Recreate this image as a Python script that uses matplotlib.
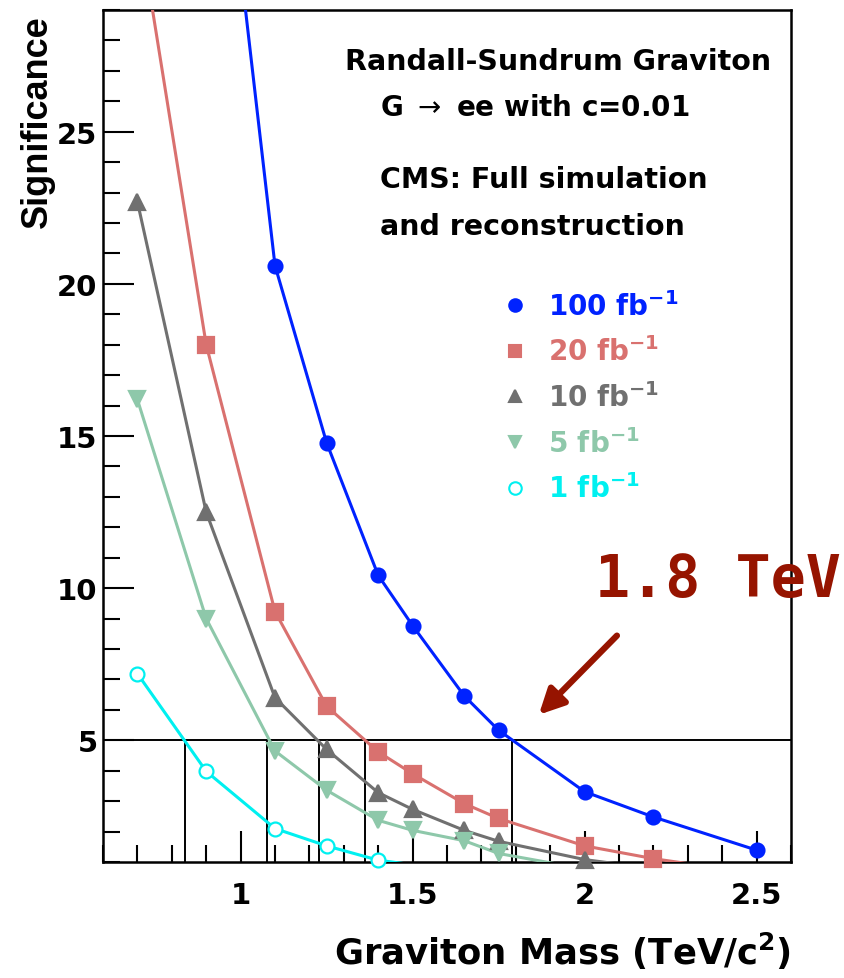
import matplotlib
matplotlib.use("Agg")
import matplotlib.pyplot as plt
from matplotlib.lines import Line2D
from matplotlib.ticker import MultipleLocator
import numpy as np

# Graviton mass points (TeV/c^2)
masa = np.array([0.7, 0.9, 1.1, 1.25, 1.4, 1.5, 1.65, 1.75, 2.0, 2.2, 2.5])

# Significance for each integrated luminosity
sig_100 = np.array([np.nan, 40.2, 20.6, 14.78, 10.42, 8.77, 6.46, 5.33, 3.31, 2.48, 1.39])
sig_20 = np.array([32.1, 18.0, 9.23, 6.12, 4.62, 3.90, 2.92, 2.43, 1.53, 1.11, 0.62])
sig_10 = np.array([22.7, 12.5, 6.40, 4.70, 3.28, 2.73, 2.04, 1.68, 1.08, 0.78, np.nan])
sig_5 = np.array([16.2, 9.0, 4.65, 3.36, 2.37, 2.04, 1.70, 1.28, 0.77, np.nan, np.nan])
sig_1 = np.array([7.19, 3.98, 2.10, 1.53, 1.06, 0.91, np.nan, np.nan, np.nan, np.nan, np.nan])

etiquetas = [r"100 fb$^{\mathbf{-1}}$", r"20 fb$^{\mathbf{-1}}$", r"10 fb$^{\mathbf{-1}}$",
             r"5 fb$^{\mathbf{-1}}$", r"1 fb$^{\mathbf{-1}}$"]

# 5 sigma crossing for each curve
cruces = [0.838, 1.077, 1.227, 1.363, 1.788]
umbral = 5

series = [sig_100, sig_20, sig_10, sig_5, sig_1]
colores = ["#0022ff", "#d9716f", "#707070", "#8ec8aa", "#00f0f0"]
marcadores = ["o", "s", "^", "v", "o"]
tamanos = [10, 11, 11, 11, 10]
rellenos = [True, True, True, True, False]

ymin, ymax = 1, 29

fig = plt.figure(figsize=(8.45, 9.79), dpi=100)
ax = fig.add_axes([103 / 845, 116 / 979, 688 / 845, 852 / 979])

# curves (clipped) + markers (not clipped, like ROOT)
for sig, col, mk, ms, fill in zip(series, colores, marcadores, tamanos, rellenos):
    ok = ~np.isnan(sig)
    ax.plot(masa[ok], sig[ok], color=col, lw=2.2, zorder=3)
    vis = ok & (sig >= ymin - 0.05) & (sig <= ymax)
    ax.plot(masa[vis], sig[vis], ls="none", marker=mk, ms=ms,
            markerfacecolor=col if fill else "white", markeredgecolor=col,
            markeredgewidth=1.6, clip_on=False, zorder=4)

# 5 sigma line and crossings
ax.axhline(umbral, color="black", lw=1.4, zorder=2)
ax.vlines(cruces, ymin, umbral, color="black", lw=1.4, zorder=2)

ax.set_xlim(0.6, 2.6)
ax.set_ylim(ymin, ymax)
ax.xaxis.set_minor_locator(MultipleLocator(0.1))
ax.yaxis.set_minor_locator(MultipleLocator(1))
ax.set_xticks([1, 1.5, 2, 2.5])
ax.set_xticklabels(["1", "1.5", "2", "2.5"])
ax.set_yticks([5, 10, 15, 20, 25])
ax.tick_params(which="both", direction="in", top=False, right=False, width=1.5)
ax.tick_params(which="major", length=22, labelsize=21)
ax.tick_params(axis="x", which="major", pad=14)
ax.tick_params(axis="y", which="major", pad=4)
ax.tick_params(which="minor", length=12)
for lab in ax.get_xticklabels() + ax.get_yticklabels():
    lab.set_fontweight("bold")
for s in ax.spines.values():
    s.set_linewidth(1.8)

ax.set_xlabel(r"Graviton Mass (TeV/c$^{\mathbf{2}}$)", fontsize=25.5, fontweight="bold",
              loc="right", labelpad=15)
ax.set_ylabel("Significance", fontsize=26, fontweight="bold", loc="top",
              family="Liberation Sans")
ax.yaxis.set_label_coords(-0.07, 0.995)

# text block
ax.text(0.352, 0.94, "Randall-Sundrum Graviton", transform=ax.transAxes,
        fontsize=20.5, fontweight="bold", va="center")
ax.text(0.403, 0.886, r"G $\rightarrow$ ee with c=0.01", transform=ax.transAxes,
        fontsize=20, fontweight="bold", va="center")
ax.text(0.403, 0.802, "CMS: Full simulation", transform=ax.transAxes,
        fontsize=20.5, fontweight="bold", va="center")
ax.text(0.403, 0.746, "and reconstruction", transform=ax.transAxes,
        fontsize=20.5, fontweight="bold", va="center")

# legend (markers only, coloured text)
handles = [Line2D([], [], ls="none", marker=mk, ms=9, color=col,
                  markerfacecolor=col if fill else "white", markeredgewidth=1.5)
           for col, mk, fill in zip(colores, marcadores, rellenos)]
leg = ax.legend(handles, etiquetas, loc="upper left", bbox_to_anchor=(0.538, 0.70),
                frameon=False, prop={"weight": "bold", "size": 20},
                labelcolor=colores, handletextpad=0.6, labelspacing=0.57,
                handlelength=1.2)

# 1.8 TeV annotation
rojo = "#961400"
ax.text(2.03, 10.28, "1.8 TeV", fontsize=42, color=rojo, fontweight="bold",
        family="DejaVu Sans Mono", va="center", clip_on=False)
ax.annotate("", xy=(1.867, 5.84), xytext=(2.094, 8.44),
            arrowprops=dict(arrowstyle="-|>,head_length=1.5,head_width=0.75",
                            color=rojo, lw=4.5, shrinkA=0, shrinkB=0))

fig.savefig("out.png", dpi=100)
